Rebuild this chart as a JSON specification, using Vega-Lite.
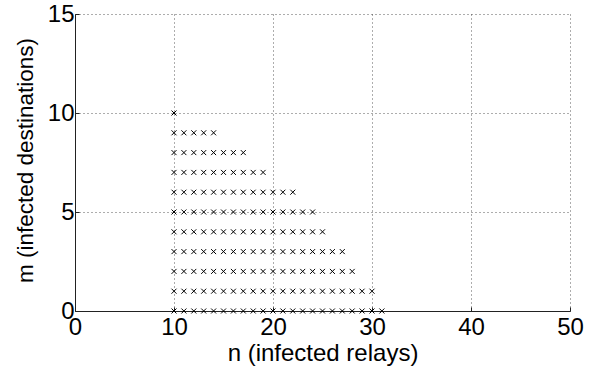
{
  "$schema": "https://vega.github.io/schema/vega-lite/v6.json",
  "width": 495,
  "height": 297,
  "autosize": "none",
  "padding": {"left": 75, "top": 14, "right": 30, "bottom": 60},
  "background": "white",
  "config": {
    "view": {"stroke": null},
    "font": "Liberation Sans",
    "axis": {
      "labelFont": "Liberation Sans",
      "titleFont": "Liberation Sans",
      "labelFontSize": 24,
      "titleFontSize": 24,
      "titleFontWeight": "normal",
      "labelColor": "#000",
      "titleColor": "#000",
      "domainColor": "#222",
      "domainWidth": 1,
      "tickColor": "#222",
      "tickSize": -4,
      "tickWidth": 1,
      "gridColor": "#333",
      "gridDash": [1, 3],
      "gridWidth": 1,
      "gridOpacity": 0.8
    }
  },
  "data": {
    "values": [
      {"n":10,"m":0},{"n":11,"m":0},{"n":12,"m":0},{"n":13,"m":0},{"n":14,"m":0},{"n":15,"m":0},{"n":16,"m":0},{"n":17,"m":0},{"n":18,"m":0},{"n":19,"m":0},{"n":20,"m":0},{"n":21,"m":0},{"n":22,"m":0},{"n":23,"m":0},{"n":24,"m":0},{"n":25,"m":0},{"n":26,"m":0},{"n":27,"m":0},{"n":28,"m":0},{"n":29,"m":0},{"n":30,"m":0},{"n":31,"m":0},
      {"n":10,"m":1},{"n":11,"m":1},{"n":12,"m":1},{"n":13,"m":1},{"n":14,"m":1},{"n":15,"m":1},{"n":16,"m":1},{"n":17,"m":1},{"n":18,"m":1},{"n":19,"m":1},{"n":20,"m":1},{"n":21,"m":1},{"n":22,"m":1},{"n":23,"m":1},{"n":24,"m":1},{"n":25,"m":1},{"n":26,"m":1},{"n":27,"m":1},{"n":28,"m":1},{"n":29,"m":1},{"n":30,"m":1},
      {"n":10,"m":2},{"n":11,"m":2},{"n":12,"m":2},{"n":13,"m":2},{"n":14,"m":2},{"n":15,"m":2},{"n":16,"m":2},{"n":17,"m":2},{"n":18,"m":2},{"n":19,"m":2},{"n":20,"m":2},{"n":21,"m":2},{"n":22,"m":2},{"n":23,"m":2},{"n":24,"m":2},{"n":25,"m":2},{"n":26,"m":2},{"n":27,"m":2},{"n":28,"m":2},
      {"n":10,"m":3},{"n":11,"m":3},{"n":12,"m":3},{"n":13,"m":3},{"n":14,"m":3},{"n":15,"m":3},{"n":16,"m":3},{"n":17,"m":3},{"n":18,"m":3},{"n":19,"m":3},{"n":20,"m":3},{"n":21,"m":3},{"n":22,"m":3},{"n":23,"m":3},{"n":24,"m":3},{"n":25,"m":3},{"n":26,"m":3},{"n":27,"m":3},
      {"n":10,"m":4},{"n":11,"m":4},{"n":12,"m":4},{"n":13,"m":4},{"n":14,"m":4},{"n":15,"m":4},{"n":16,"m":4},{"n":17,"m":4},{"n":18,"m":4},{"n":19,"m":4},{"n":20,"m":4},{"n":21,"m":4},{"n":22,"m":4},{"n":23,"m":4},{"n":24,"m":4},{"n":25,"m":4},
      {"n":10,"m":5},{"n":11,"m":5},{"n":12,"m":5},{"n":13,"m":5},{"n":14,"m":5},{"n":15,"m":5},{"n":16,"m":5},{"n":17,"m":5},{"n":18,"m":5},{"n":19,"m":5},{"n":20,"m":5},{"n":21,"m":5},{"n":22,"m":5},{"n":23,"m":5},{"n":24,"m":5},
      {"n":10,"m":6},{"n":11,"m":6},{"n":12,"m":6},{"n":13,"m":6},{"n":14,"m":6},{"n":15,"m":6},{"n":16,"m":6},{"n":17,"m":6},{"n":18,"m":6},{"n":19,"m":6},{"n":20,"m":6},{"n":21,"m":6},{"n":22,"m":6},
      {"n":10,"m":7},{"n":11,"m":7},{"n":12,"m":7},{"n":13,"m":7},{"n":14,"m":7},{"n":15,"m":7},{"n":16,"m":7},{"n":17,"m":7},{"n":18,"m":7},{"n":19,"m":7},
      {"n":10,"m":8},{"n":11,"m":8},{"n":12,"m":8},{"n":13,"m":8},{"n":14,"m":8},{"n":15,"m":8},{"n":16,"m":8},{"n":17,"m":8},
      {"n":10,"m":9},{"n":11,"m":9},{"n":12,"m":9},{"n":13,"m":9},{"n":14,"m":9},
      {"n":10,"m":10}
    ]
  },
  "mark": {
    "type": "point",
    "shape": "M-1,-1L1,1M-1,1L1,-1",
    "filled": false,
    "stroke": "#000",
    "strokeWidth": 1,
    "size": 25,
    "opacity": 1,
    "clip": false
  },
  "encoding": {
    "x": {
      "field": "n",
      "type": "quantitative",
      "scale": {"domain": [0, 50], "nice": false, "zero": false},
      "axis": {
        "title": "n (infected relays)",
        "values": [0, 10, 20, 30, 40, 50],
        "labelPadding": 8,
        "labelFlush": false,
        "titleY": 30,
        "titleBaseline": "top"
      }
    },
    "y": {
      "field": "m",
      "type": "quantitative",
      "scale": {"domain": [0, 15], "nice": false, "zero": false},
      "axis": {
        "title": "m (infected destinations)",
        "titleFontSize": 22.5,
        "values": [0, 5, 10, 15],
        "labelPadding": 5,
        "labelFlush": false,
        "titleX": -38,
        "titleY": 146,
        "titleAngle": -90,
        "titleBaseline": "bottom"
      }
    }
  }
}
